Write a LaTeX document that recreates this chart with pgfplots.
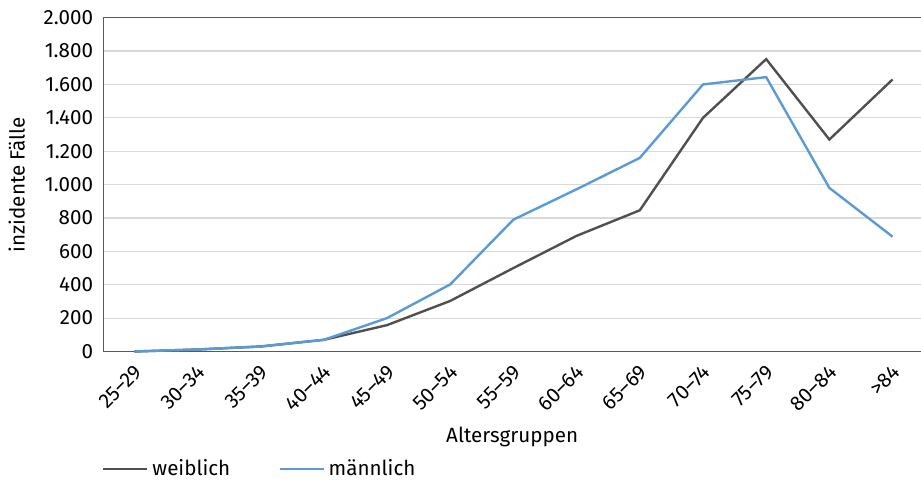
\documentclass[border=0pt]{standalone}
\usepackage{fontspec}
\setmainfont{Fira Sans}
\usepackage{pgfplots}
\pgfplotsset{compat=1.18}

\definecolor{weibl}{HTML}{505050}
\definecolor{maennl}{HTML}{5B9BD5}
\definecolor{gridc}{HTML}{D9D9D9}
\definecolor{axisc}{HTML}{595959}

\begin{document}
\fontsize{10.3}{12}\selectfont
\begin{tikzpicture}
\begin{axis}[
    name=ax,
    scale only axis,
    width=408.85pt, height=166.9pt,
    xmin=-0.49, xmax=12.45,
    ymin=0, ymax=2000,
    axis x line*=box, axis y line*=left,
    axis line style={axisc, line width=0.7pt},
    tick style={draw=none},
    ytick={0,200,...,2000},
    xtick={0,...,12},
    xticklabels={25–29,30–34,35–39,40–44,45–49,50–54,55–59,60–64,65–69,70–74,75–79,80–84,>84},
    xticklabel style={xshift=4.5pt, yshift=-6pt, rotate=45, anchor=east, font=\fontsize{10.3}{12}\selectfont},
    yticklabel style={font=\fontsize{10.3}{12}\selectfont, xshift=-1.5pt},
    scaled y ticks=false,
    /pgf/number format/1000 sep={.},
    /pgf/number format/assume math mode=true,
    ymajorgrids,
    grid style={gridc, line width=0.6pt},
    xlabel={Altersgruppen},
    ylabel={inzidente Fälle},
    every axis x label/.style={at={(axis description cs:0.5,-0.2562)}, anchor=center},
    every axis y label/.style={at={(axis description cs:-0.1059,0.5)}, anchor=center, rotate=90},
    legend columns=2,
    legend style={at={(axis description cs:0,0)}, anchor=west, xshift=-0.8pt, yshift=-58.75pt,
        draw=none, fill=none, inner sep=0pt, font=\fontsize{10.3}{12}\selectfont,
        /tikz/every even column/.append style={column sep=22pt}},
    legend image code/.code={\draw[#1] (0pt,0pt) -- (22pt,0pt);},
    legend cell align=left,
    clip=false,
]
\addplot[weibl, line width=1.2pt] coordinates {
    (0,0) (1,12) (2,30) (3,70) (4,158) (5,303) (6,500) (7,693)
    (8,846) (9,1400) (10,1752) (11,1270) (12,1630)
};
\addlegendentry{weiblich}
\addplot[maennl, line width=1.2pt] coordinates {
    (0,0) (1,12) (2,30) (3,70) (4,200) (5,402) (6,790) (7,972)
    (8,1160) (9,1600) (10,1644) (11,980) (12,688)
};
\addlegendentry{männlich}
\end{axis}
\pgfresetboundingbox
\path (-51.65pt,-64.75pt) rectangle (408.85pt,175.75pt);
\end{tikzpicture}
\end{document}
